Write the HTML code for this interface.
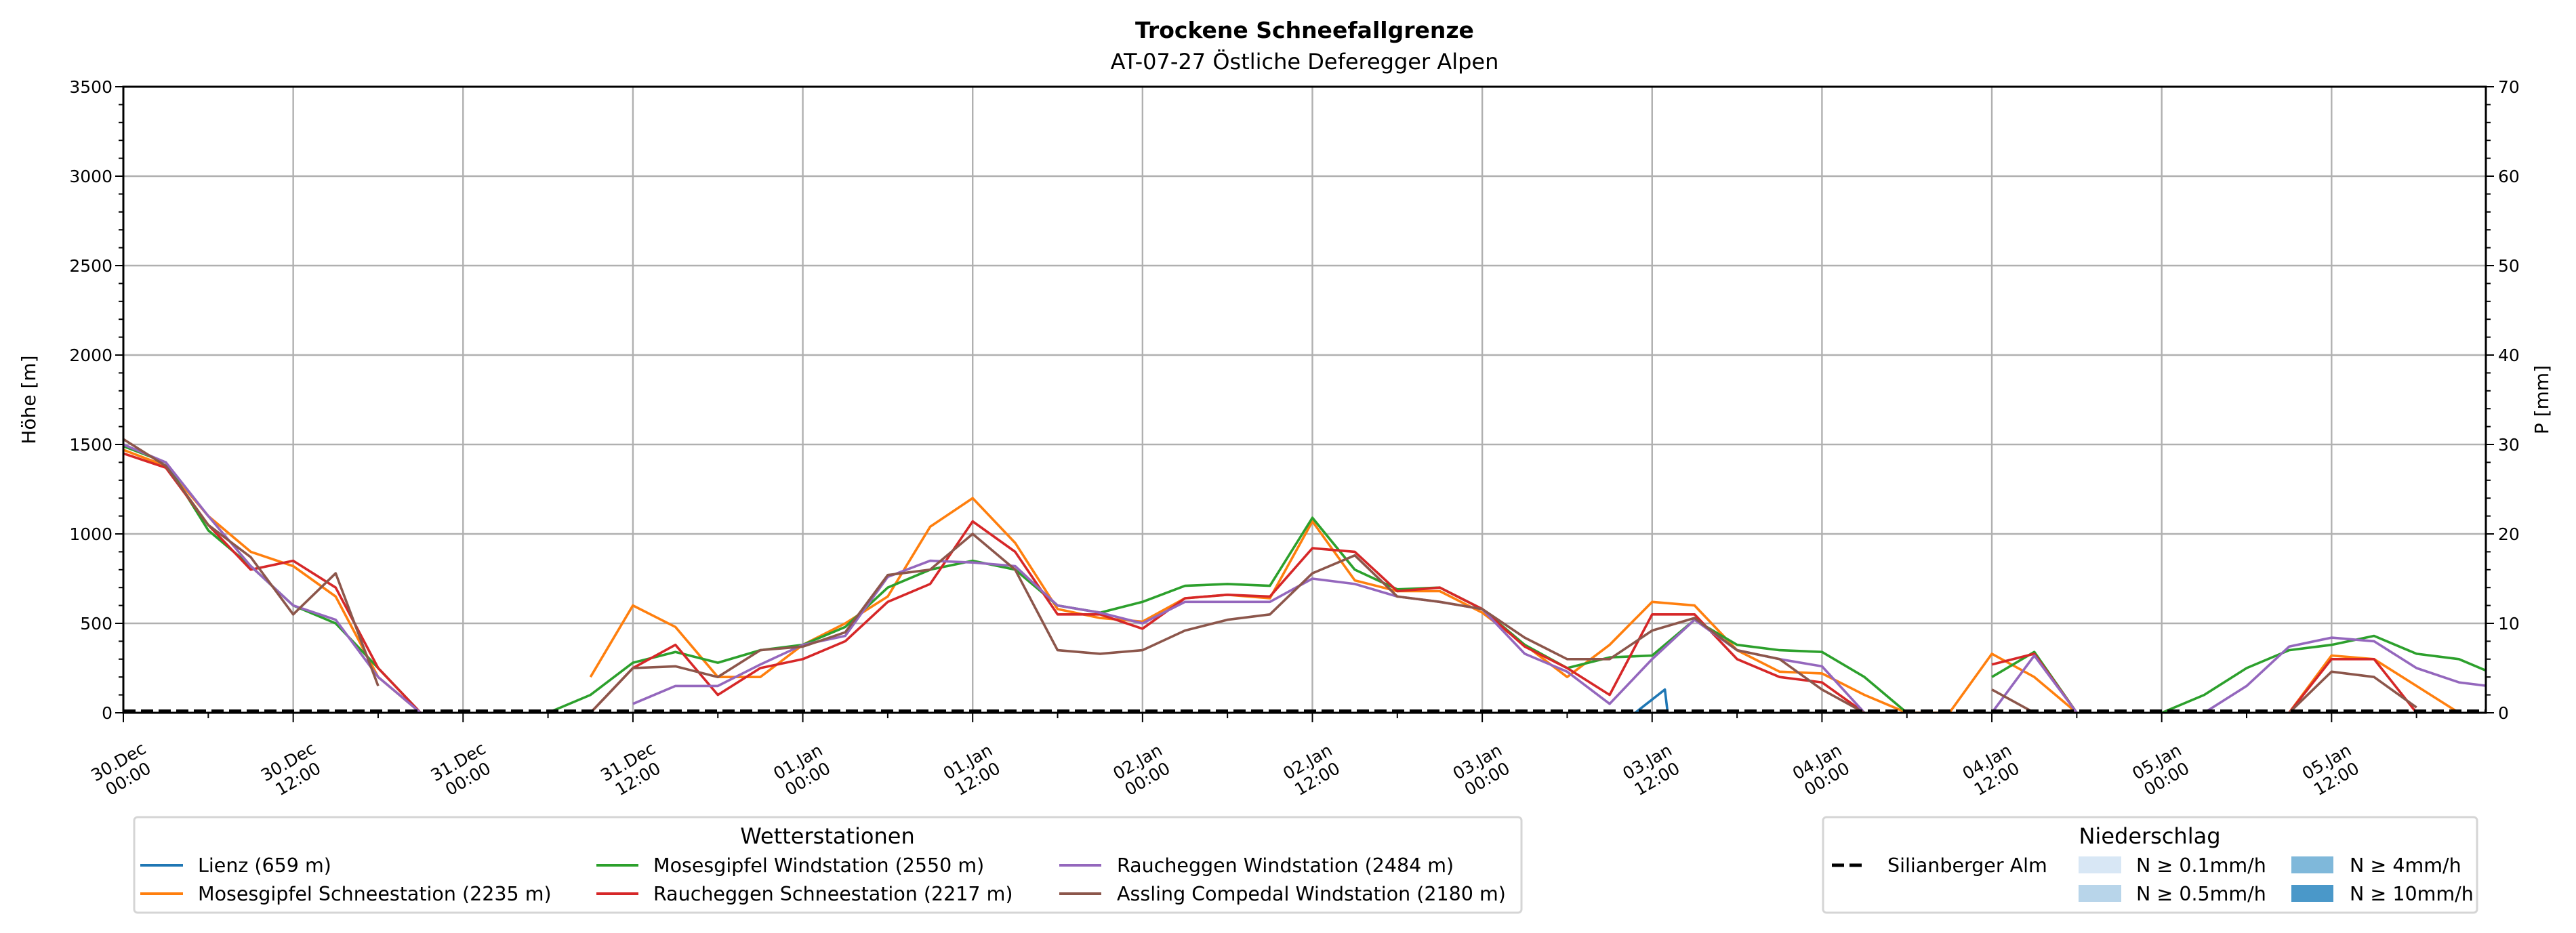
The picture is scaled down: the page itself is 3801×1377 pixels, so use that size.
<!DOCTYPE html>
<html><head><meta charset="utf-8"><style>
html,body{margin:0;padding:0;background:#fff;}
svg{display:block;font-family:"DejaVu Sans","Liberation Sans",sans-serif;}
</style></head><body>
<svg id="chart" width="3801" height="1377" viewBox="0 0 3801 1377" xmlns="http://www.w3.org/2000/svg">
<text x="1925" y="56" text-anchor="middle" font-size="33" font-weight="bold">Trockene Schneefallgrenze</text>
<text x="1925" y="102" text-anchor="middle" font-size="32">AT-07-27 Östliche Deferegger Alpen</text>
<defs><clipPath id="plotclip"><rect x="182" y="128" width="3486" height="924"/></clipPath></defs>
<g id="grid"></g>
<g id="series" clip-path="url(#plotclip)"></g>
<g id="axes"></g>
<text transform="translate(52,590) rotate(-90)" text-anchor="middle" font-size="28">Höhe [m]</text>
<text transform="translate(3760,590) rotate(-90)" text-anchor="middle" font-size="28">P [mm]</text>

<g>
<rect x="198" y="1206" width="2047" height="141" rx="5" fill="#fff" stroke="#d5d5d5" stroke-width="3"/>
<text x="1221" y="1245" text-anchor="middle" font-size="32">Wetterstationen</text>
<g><line x1="207" y1="1277" x2="270" y2="1277" stroke="#1f77b4" stroke-width="4"/><text x="292" y="1287" font-size="28.5">Lienz (659 m)</text></g>
<g><line x1="207" y1="1319" x2="270" y2="1319" stroke="#ff7f0e" stroke-width="4"/><text x="292" y="1329" font-size="28.5">Mosesgipfel Schneestation (2235 m)</text></g>
<g><line x1="880" y1="1277" x2="942" y2="1277" stroke="#2ca02c" stroke-width="4"/><text x="964" y="1287" font-size="28.5">Mosesgipfel Windstation (2550 m)</text></g>
<g><line x1="880" y1="1319" x2="942" y2="1319" stroke="#d62728" stroke-width="4"/><text x="964" y="1329" font-size="28.5">Raucheggen Schneestation (2217 m)</text></g>
<g><line x1="1563" y1="1277" x2="1625" y2="1277" stroke="#9467bd" stroke-width="4"/><text x="1648" y="1287" font-size="28.5">Raucheggen Windstation (2484 m)</text></g>
<g><line x1="1563" y1="1319" x2="1625" y2="1319" stroke="#8c564b" stroke-width="4"/><text x="1648" y="1329" font-size="28.5">Assling Compedal Windstation (2180 m)</text></g>
</g>

<g>
<rect x="2690" y="1206" width="965" height="141" rx="5" fill="#fff" stroke="#d5d5d5" stroke-width="3"/>
<text x="3172" y="1245" text-anchor="middle" font-size="32">Niederschlag</text>
<g><line x1="2703" y1="1277" x2="2753" y2="1277" stroke="#000" stroke-width="5" stroke-dasharray="18,8"/><text x="2785" y="1287" font-size="28.5">Silianberger Alm</text></g>
<g><rect x="3067" y="1264" width="63" height="25" fill="#d8e7f5"/><text x="3152" y="1287" font-size="28.5">N ≥ 0.1mm/h</text></g>
<g><rect x="3067" y="1306" width="63" height="25" fill="#b8d5ea"/><text x="3152" y="1329" font-size="28.5">N ≥ 0.5mm/h</text></g>
<g><rect x="3381" y="1264" width="62" height="25" fill="#7fb8da"/><text x="3467" y="1287" font-size="28.5">N ≥ 4mm/h</text></g>
<g><rect x="3381" y="1306" width="62" height="25" fill="#4a98c9"/><text x="3467" y="1329" font-size="28.5">N ≥ 10mm/h</text></g>
</g>
</svg>
<script>
// ---- data ----
const hours = [0,3,6,9,12,15,18,21,24,27,30,33,36,39,42,45,48,51,54,57,60,63,66,69,72,75,78,81,84,87,90,93,96,99,102,105,108,111,114,117,120,123,126,129,132,135,138,141,144,147,150,153,156,159,162,165,168];
const n = null;
const mosesWind = [1490,1400,1020,820,600,500,250,0,n,n,0,100,280,340,280,350,380,480,700,800,850,800,600,560,620,710,720,710,1090,800,690,700,580,380,250,310,320,520,380,350,340,200,0,n,200,340,0,n,0,100,250,350,380,430,330,300,200];
const mosesSchnee = [1470,1380,1100,900,820,650,200,0,n,n,n,200,600,480,200,200,380,500,650,1040,1200,950,580,530,510,640,660,640,1070,740,680,680,560,380,200,380,620,600,350,230,220,100,0,0,330,200,0,n,n,n,n,0,320,300,150,0,n];
const rauchSchnee = [1450,1370,1050,800,850,700,250,0,n,n,n,0,250,380,100,250,300,400,620,720,1070,900,550,550,470,640,660,650,920,900,680,700,580,370,250,100,550,550,300,200,170,0,n,n,270,330,0,n,n,n,n,0,300,300,0,n,n];
const rauchWind = [1500,1400,1100,820,600,520,200,0,n,n,n,n,50,150,150,270,380,430,760,850,840,820,600,560,500,620,620,620,750,720,650,620,580,330,230,50,300,520,350,300,260,0,n,n,0,320,0,n,n,0,150,370,420,400,250,170,140];
const assling = [1530,1380,1050,870,550,780,150,n,n,n,n,0,250,260,200,350,370,450,770,800,1000,800,350,330,350,460,520,550,780,880,650,620,580,420,300,300,460,530,350,300,130,0,n,n,130,0,n,n,n,n,n,0,230,200,30,n,n];
const lienzHours = [106.8,108.9,109.1];
const lienzValues = [0,130,0];
const silianValue = 10;
const yTicks = [0,500,1000,1500,2000,2500,3000,3500];
const y2Ticks = [0,10,20,30,40,50,60,70];
const xDays = ["30.Dec","30.Dec","31.Dec","31.Dec","01.Jan","01.Jan","02.Jan","02.Jan","03.Jan","03.Jan","04.Jan","04.Jan","05.Jan","05.Jan"];
const xTimes = ["00:00","12:00","00:00","12:00","00:00","12:00","00:00","12:00","00:00","12:00","00:00","12:00","00:00","12:00"];

// ---- scales ----
const L=182,R=3668,T=128,B=1052, hMax=166.9;
const xs = h => L + (R-L)*h/hMax;
const ys = v => B - (B-T)*v/3500;
const NS="http://www.w3.org/2000/svg";
function mk(tag, attrs, parent){const e=document.createElementNS(NS,tag);for(const k in attrs)e.setAttribute(k,attrs[k]);parent.appendChild(e);return e;}
const grid=document.getElementById('grid'), axes=document.getElementById('axes'), ser=document.getElementById('series');

for(let i=0;i<xDays.length;i++){
  const x=xs(i*12);
  const g=mk('line',{x1:x,x2:x,y1:T,y2:B,stroke:'#b0b0b0','stroke-width':2.4},grid);
  
  
}
yTicks.forEach(v=>{
  const g=mk('line',{x1:L,x2:R,y1:ys(v),y2:ys(v),stroke:'#b0b0b0','stroke-width':2.4},grid);
  
  
});

function drawSeries(hs, vals, color, name){
  let d='', pen=false;
  for(let i=0;i<vals.length;i++){
    if(vals[i]===null){pen=false;continue;}
    d+=(pen?'L':'M')+xs(hs[i]).toFixed(1)+','+ys(vals[i]).toFixed(1);
    pen=true;
  }
  const p=mk('path',{d:d,fill:'none',stroke:color,'stroke-width':3.6,'stroke-linejoin':'round'},ser);
  
  
}
drawSeries(lienzHours,lienzValues,'#1f77b4','line-lienz');
drawSeries(hours,mosesSchnee,'#ff7f0e','line-mosesgipfel-schnee');
drawSeries(hours,mosesWind,'#2ca02c','line-mosesgipfel-wind');
drawSeries(hours,rauchSchnee,'#d62728','line-raucheggen-schnee');
drawSeries(hours,rauchWind,'#9467bd','line-raucheggen-wind');
drawSeries(hours,assling,'#8c564b','line-assling');
const sil=mk('line',{x1:L,x2:R,y1:ys(silianValue),y2:ys(silianValue),stroke:'#000','stroke-width':4.5,'stroke-dasharray':'18,8'},ser);



const fr=mk('rect',{x:L,y:T,width:R-L,height:B-T,fill:'none',stroke:'#000','stroke-width':3},axes);



for(let v=0;v<=3500;v+=100){
  const major=v%500===0;
  mk('line',{x1:L,x2:L-(major?12:7),y1:ys(v),y2:ys(v),stroke:'#000','stroke-width':2},axes);
}
yTicks.forEach(v=>{
  const t=mk('text',{x:L-16,y:ys(v)+9,'text-anchor':'end','font-size':25},axes);
  t.textContent=v;
  
  
});
for(let v=0;v<=70;v+=2){
  const major=v%10===0;
  mk('line',{x1:R,x2:R+(major?12:7),y1:B-(B-T)*v/70,y2:B-(B-T)*v/70,stroke:'#000','stroke-width':2},axes);
}
y2Ticks.forEach(v=>{
  const t=mk('text',{x:R+18,y:B-(B-T)*v/70+9,'text-anchor':'start','font-size':25},axes);
  t.textContent=v;
  
  
});
for(let h=0;h<=hMax;h+=6){
  const major=h%12===0;
  mk('line',{x1:xs(h),x2:xs(h),y1:B,y2:B+(major?14:8),stroke:'#000','stroke-width':2},axes);
}
xDays.forEach((d,i)=>{
  const x=xs(i*12);
  const t=mk('text',{transform:`translate(${x.toFixed(1)},1137) rotate(-30)`,'text-anchor':'middle','font-size':25},axes);
  
  
  const a=mk('tspan',{x:0,y:-6},t); a.textContent=d;
  const b=mk('tspan',{x:0,y:23},t); b.textContent=xTimes[i];
});
</script>
</body></html>
